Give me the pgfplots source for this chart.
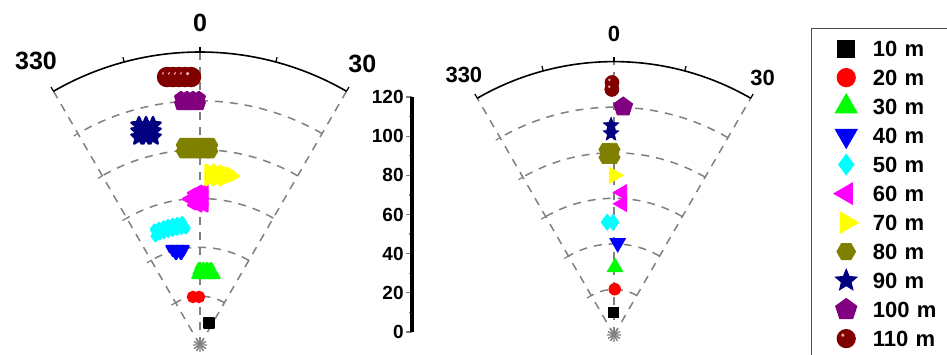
\documentclass[border=0pt]{standalone}
\usepackage{pgfplots}
\pgfplotsset{compat=1.18}
\usepgfplotslibrary{polar}
\usepackage{fontspec}
\setmainfont{Liberation Sans}

\definecolor{cred}{RGB}{255,0,0}
\definecolor{cgreen}{RGB}{0,255,0}
\definecolor{cblue}{RGB}{0,0,255}
\definecolor{ccyan}{RGB}{0,255,255}
\definecolor{cmag}{RGB}{255,0,255}
\definecolor{cyel}{RGB}{255,255,0}
\definecolor{colive}{RGB}{128,128,0}
\definecolor{cnavy}{RGB}{0,0,128}
\definecolor{cpurp}{RGB}{128,0,128}
\definecolor{cmaroon}{RGB}{128,0,0}
\definecolor{cgrid}{RGB}{128,128,128}
\definecolor{chigh}{RGB}{230,170,170}

\pgfdeclareplotmark{hexfill}{%
  \pgfpathmoveto{\pgfpointpolar{0}{\pgfplotmarksize}}%
  \pgfpathlineto{\pgfpointpolar{60}{\pgfplotmarksize}}%
  \pgfpathlineto{\pgfpointpolar{120}{\pgfplotmarksize}}%
  \pgfpathlineto{\pgfpointpolar{180}{\pgfplotmarksize}}%
  \pgfpathlineto{\pgfpointpolar{240}{\pgfplotmarksize}}%
  \pgfpathlineto{\pgfpointpolar{300}{\pgfplotmarksize}}%
  \pgfpathclose\pgfusepathqfillstroke}
\pgfdeclareplotmark{starfill}{%
  \pgfpathmoveto{\pgfpointpolar{90}{\pgfplotmarksize}}%
  \pgfpathlineto{\pgfpointpolar{126}{0.45\pgfplotmarksize}}%
  \pgfpathlineto{\pgfpointpolar{162}{\pgfplotmarksize}}%
  \pgfpathlineto{\pgfpointpolar{198}{0.45\pgfplotmarksize}}%
  \pgfpathlineto{\pgfpointpolar{234}{\pgfplotmarksize}}%
  \pgfpathlineto{\pgfpointpolar{270}{0.45\pgfplotmarksize}}%
  \pgfpathlineto{\pgfpointpolar{306}{\pgfplotmarksize}}%
  \pgfpathlineto{\pgfpointpolar{342}{0.45\pgfplotmarksize}}%
  \pgfpathlineto{\pgfpointpolar{18}{\pgfplotmarksize}}%
  \pgfpathlineto{\pgfpointpolar{54}{0.45\pgfplotmarksize}}%
  \pgfpathclose\pgfusepathqfillstroke}
\pgfdeclareplotmark{myball}{%
  \pgfpathcircle{\pgfpointorigin}{\pgfplotmarksize}%
  \pgfusepathqfillstroke
  \begin{pgfscope}%
  \pgfsetfillcolor{chigh}%
  \pgfpathcircle{\pgfpoint{-0.38\pgfplotmarksize}{0.38\pgfplotmarksize}}{0.2\pgfplotmarksize}%
  \pgfusepathqfill
  \end{pgfscope}}

\pgfplotsset{
  polstyle/.style={
    scale only axis, clip=false,
    xmin=60, xmax=120, ymin=0, ymax=120,
    x filter/.expression={90-x},
    xtick={60,120}, xticklabels={30,330},
    extra x ticks={90}, extra x tick labels={0},
    minor xtick={75,105},
    ytick={20,40,60,80,100}, yticklabels={},
    extra y ticks={120}, extra y tick labels={},
    extra y tick style={major grid style={solid, black, line width=0.8pt}, major tick length=0pt},
    xmajorgrids, ymajorgrids,
    major grid style={cgrid, line width=0.75pt, dash pattern=on 4pt off 3.5pt},
    axis line style={draw=none},
    tick align=inside,
    major tick length=2.5pt, minor tick length=2.5pt,
    xtick style={black, line width=0.6pt},
    ytick style={cgrid, line width=0.6pt},
  },
  pts/.style={only marks},
}

\begin{document}
\begin{tikzpicture}
\useasboundingbox (0,0) rectangle (473.5pt,177pt);
\clip (0,0) rectangle (473.5pt,177pt);

% ---------------- left polar plot ----------------
\begin{polaraxis}[polstyle,
  at={(100pt,4.5pt)}, anchor=origin,
  width=293pt, height=293pt,
  xticklabel style={font=\bfseries\fontsize{12.5}{13}\selectfont, inner sep=6pt},
  extra x tick style={grid=major, xticklabel style={inner sep=10pt}},
]
\addplot[pts, cgrid, mark=asterisk, mark size=3.5pt, line width=0.7pt] coordinates {(0,0)};
\addplot[pts, cgrid, mark=asterisk, mark size=3.5pt, line width=0.7pt, mark options={rotate=30}] coordinates {(0,0)};
\addplot[pts, black, mark=square*, mark size=2.5pt, mark options={line width=1.2pt, line join=round}] coordinates {(22.2,9.7)};
\addplot[pts, cred, mark=*, mark size=2.5pt, mark options={line width=1.2pt}] coordinates {(-8.3,19.9) (-1.2,19.7)};
\addplot[pts, cgreen, mark=triangle*, mark size=2pt, mark options={line width=1.2pt, line join=round}] coordinates {
 (-0.73,31.94) (2.20,31.96) (5.13,32.07) (8.03,32.26)
 (-2.35,29.92) (0.78,29.90) (3.92,29.96) (7.03,30.12) (10.10,30.37)
 (-3.32,28.30) (0,28.26) (3.32,28.30) (6.61,28.44) (9.87,28.68) (13.05,29.01)};
\addplot[pts, cblue, mark=triangle*, mark size=2pt, mark options={rotate=180, line width=1.2pt, line join=round}] coordinates {
 (-17.19,41.58) (-14.45,41.02) (-11.65,40.56) (-8.79,40.19)
 (-16.19,39.66) (-13.31,39.13) (-10.36,38.71)
 (-14.93,38.14) (-11.92,37.67)};
\addplot[pts, ccyan, mark=diamond*, mark size=2.5pt, mark options={line width=1.2pt, line join=round}] coordinates {
 (-21.5,50.8) (-19.3,50.8) (-17.1,50.8) (-14.9,50.8) (-12.7,50.8) (-10.5,50.8) (-8.3,50.8)
 (-22.3,48.2) (-20.1,48.2) (-17.9,48.2) (-15.7,48.2) (-13.5,48.2) (-11.3,48.2) (-9.1,48.2) (-6.9,48.2)};
\addplot[pts, cmag, mark=triangle*, mark size=2.5pt, mark options={rotate=90, line width=1.2pt, line join=round}] coordinates {
 (1.84,63.92) (1.91,61.46) (1.99,59.00) (2.08,56.55)
 (-0.37,63.47) (-0.38,61.02) (-0.40,58.56) (-0.42,56.51)
 (-2.64,62.31) (-2.74,59.86) (-2.86,57.40) (-4.70,59.99)};
\addplot[pts, cyel, mark=triangle*, mark size=2.5pt, mark options={rotate=-90, line width=1.2pt, line join=round}] coordinates {
 (2.60,72.15) (2.69,69.69) (2.79,67.24)
 (4.87,72.33) (5.04,69.89) (5.23,67.44)
 (7.17,72.23) (7.42,69.79) (7.64,67.76)
 (9.52,71.83) (9.85,69.41) (11.37,70.59)};
\addplot[pts, colive, mark=hexfill, mark size=3.5pt, mark options={line width=1.2pt, line join=round}] coordinates {
 (-4.57,82.16) (-2.58,81.98) (-0.57,81.90) (1.43,81.92) (2.86,82.00)
 (-4.71,79.71) (-2.66,79.53) (-0.59,79.45) (1.48,79.47) (2.95,79.55)};
\addplot[pts, cnavy, mark=starfill, mark size=4pt, mark options={line width=1.2pt, line join=round}] coordinates {
 (-15.50,93.49) (-13.79,92.76) (-12.06,92.12)
 (-15.91,91.12) (-14.16,90.38) (-12.39,89.72)
 (-16.35,88.76) (-14.55,88.00) (-12.73,87.32)};
\addplot[pts, cpurp, mark=pentagon*, mark size=3pt, mark options={line width=1.2pt, line join=round}] coordinates {
 (-4.40,101.45) (-3.01,101.29) (-1.62,101.19) (-0.23,101.15)
 (-4.51,99.00) (-3.09,98.83) (-1.66,98.73) (-0.24,98.69)};
\addplot[pts, cmaroon, mark=myball, mark size=4.5pt, mark options={line width=1.2pt}] coordinates {
 (-7.02,110.57) (-5.75,110.30) (-4.48,110.08) (-3.20,109.92) (-1.92,109.81)};
\end{polaraxis}

% ---------------- right polar plot ----------------
\begin{polaraxis}[polstyle,
  at={(307pt,9.5pt)}, anchor=origin,
  width=273.4pt, height=273.4pt,
  xticklabel style={font=\bfseries\fontsize{11}{12}\selectfont, inner sep=3.8pt},
  extra x tick style={grid=major, xticklabel style={inner sep=9.5pt}},
]
\addplot[pts, cgrid, mark=asterisk, mark size=3.5pt, line width=0.7pt] coordinates {(0,0)};
\addplot[pts, cgrid, mark=asterisk, mark size=3.5pt, line width=0.7pt, mark options={rotate=30}] coordinates {(0,0)};
\addplot[pts, black, mark=square*, mark size=2.5pt] coordinates {(-1.8,9.9)};
\addplot[pts, cred, mark=*, mark size=2.9pt] coordinates {(0.9,20.1)};
\addplot[pts, cgreen, mark=triangle*, mark size=4.5pt] coordinates {(0.85,29.7)};
\addplot[pts, cblue, mark=triangle*, mark size=4.5pt, mark options={rotate=180}] coordinates {(2.3,40.4)};
\addplot[pts, ccyan, mark=diamond*, mark size=4pt] coordinates {(-3.5,49.6) (-0.5,49.5)};
\addplot[pts, cmag, mark=triangle*, mark size=4.5pt, mark options={rotate=90}] coordinates {(3.3,62.7) (3.6,57.7)};
\addplot[pts, cyel, mark=triangle*, mark size=4.7pt, mark options={rotate=-90}] coordinates {(0,70.1)};
\addplot[pts, colive, mark=hexfill, mark size=3.5pt] coordinates {(-2.5,81.5) (-0.3,81.5) (-2.6,78.0) (-0.3,78.0)};
\addplot[pts, cnavy, mark=starfill, mark size=4pt] coordinates {(-0.8,92.0) (-0.85,88.5)};
\addplot[pts, cpurp, mark=pentagon*, mark size=5pt] coordinates {(2.3,100.2)};
\addplot[pts, cmaroon, mark=myball, mark size=3.5pt] coordinates {(-0.45,110.8) (-0.5,107.8)};
\end{polaraxis}

% ---------------- radial scale ----------------
\begin{axis}[
  at={(206pt,11pt)}, anchor=south west,
  scale only axis, width=10pt, height=117.5pt,
  xmin=0, xmax=1, ymin=0, ymax=120,
  axis x line=none, axis y line*=left,
  ytick={0,20,...,120}, minor y tick num=1,
  tick align=outside, major tick length=3pt, minor tick length=1.5pt,
  axis line style={line width=1.6pt},
  ytick style={line width=0.6pt},
  /pgf/number format/assume math mode=true,
  yticklabel style={font=\bfseries\fontsize{9.5}{10}\selectfont, inner sep=1pt},
]
\addplot[draw=none] coordinates {(0,0)};
\end{axis}

% ---------------- legend ----------------
\begin{axis}[
  at={(0pt,0pt)}, anchor=south west,
  scale only axis, width=473.5pt, height=177pt,
  xmin=0, xmax=1, ymin=0, ymax=1, hide axis,
  legend cell align=left,
  legend image code/.code={\path (-8pt,0.65pt) (8pt,0.65pt); \draw[#1] plot coordinates {(0pt,0.65pt)};},
  legend style={at={(0.8564,0.9209)}, anchor=north west,
    font=\bfseries\fontsize{11}{12}\selectfont,
    draw=black!70, line width=0.6pt, fill=white,
    inner xsep=9pt, inner ysep=3.4pt, row sep=0pt, column sep=5pt,
    nodes={inner sep=0pt, text height=10.5pt, text depth=4pt, text width=40pt, align=left}},
]
\addlegendimage{only marks, black, mark=square*, mark size=4.25pt}
\addlegendentry{10 m}
\addlegendimage{only marks, cred, mark=*, mark size=4.5pt}
\addlegendentry{20 m}
\addlegendimage{only marks, cgreen, mark=triangle*, mark size=6.2pt}
\addlegendentry{30 m}
\addlegendimage{only marks, cblue, mark=triangle*, mark size=6.2pt, mark options={rotate=180}}
\addlegendentry{40 m}
\addlegendimage{only marks, ccyan, mark=diamond*, mark size=5pt}
\addlegendentry{50 m}
\addlegendimage{only marks, cmag, mark=triangle*, mark size=6pt, mark options={rotate=90}}
\addlegendentry{60 m}
\addlegendimage{only marks, cyel, mark=triangle*, mark size=6pt, mark options={rotate=-90}}
\addlegendentry{70 m}
\addlegendimage{only marks, colive, mark=hexfill, mark size=4.6pt}
\addlegendentry{80 m}
\addlegendimage{only marks, cnavy, mark=starfill, mark size=5.5pt}
\addlegendentry{90 m}
\addlegendimage{only marks, cpurp, mark=pentagon*, mark size=5.5pt}
\addlegendentry{100 m}
\addlegendimage{only marks, cmaroon, mark=myball, mark size=4.5pt}
\addlegendentry{110 m}
\end{axis}
\end{tikzpicture}
\end{document}
